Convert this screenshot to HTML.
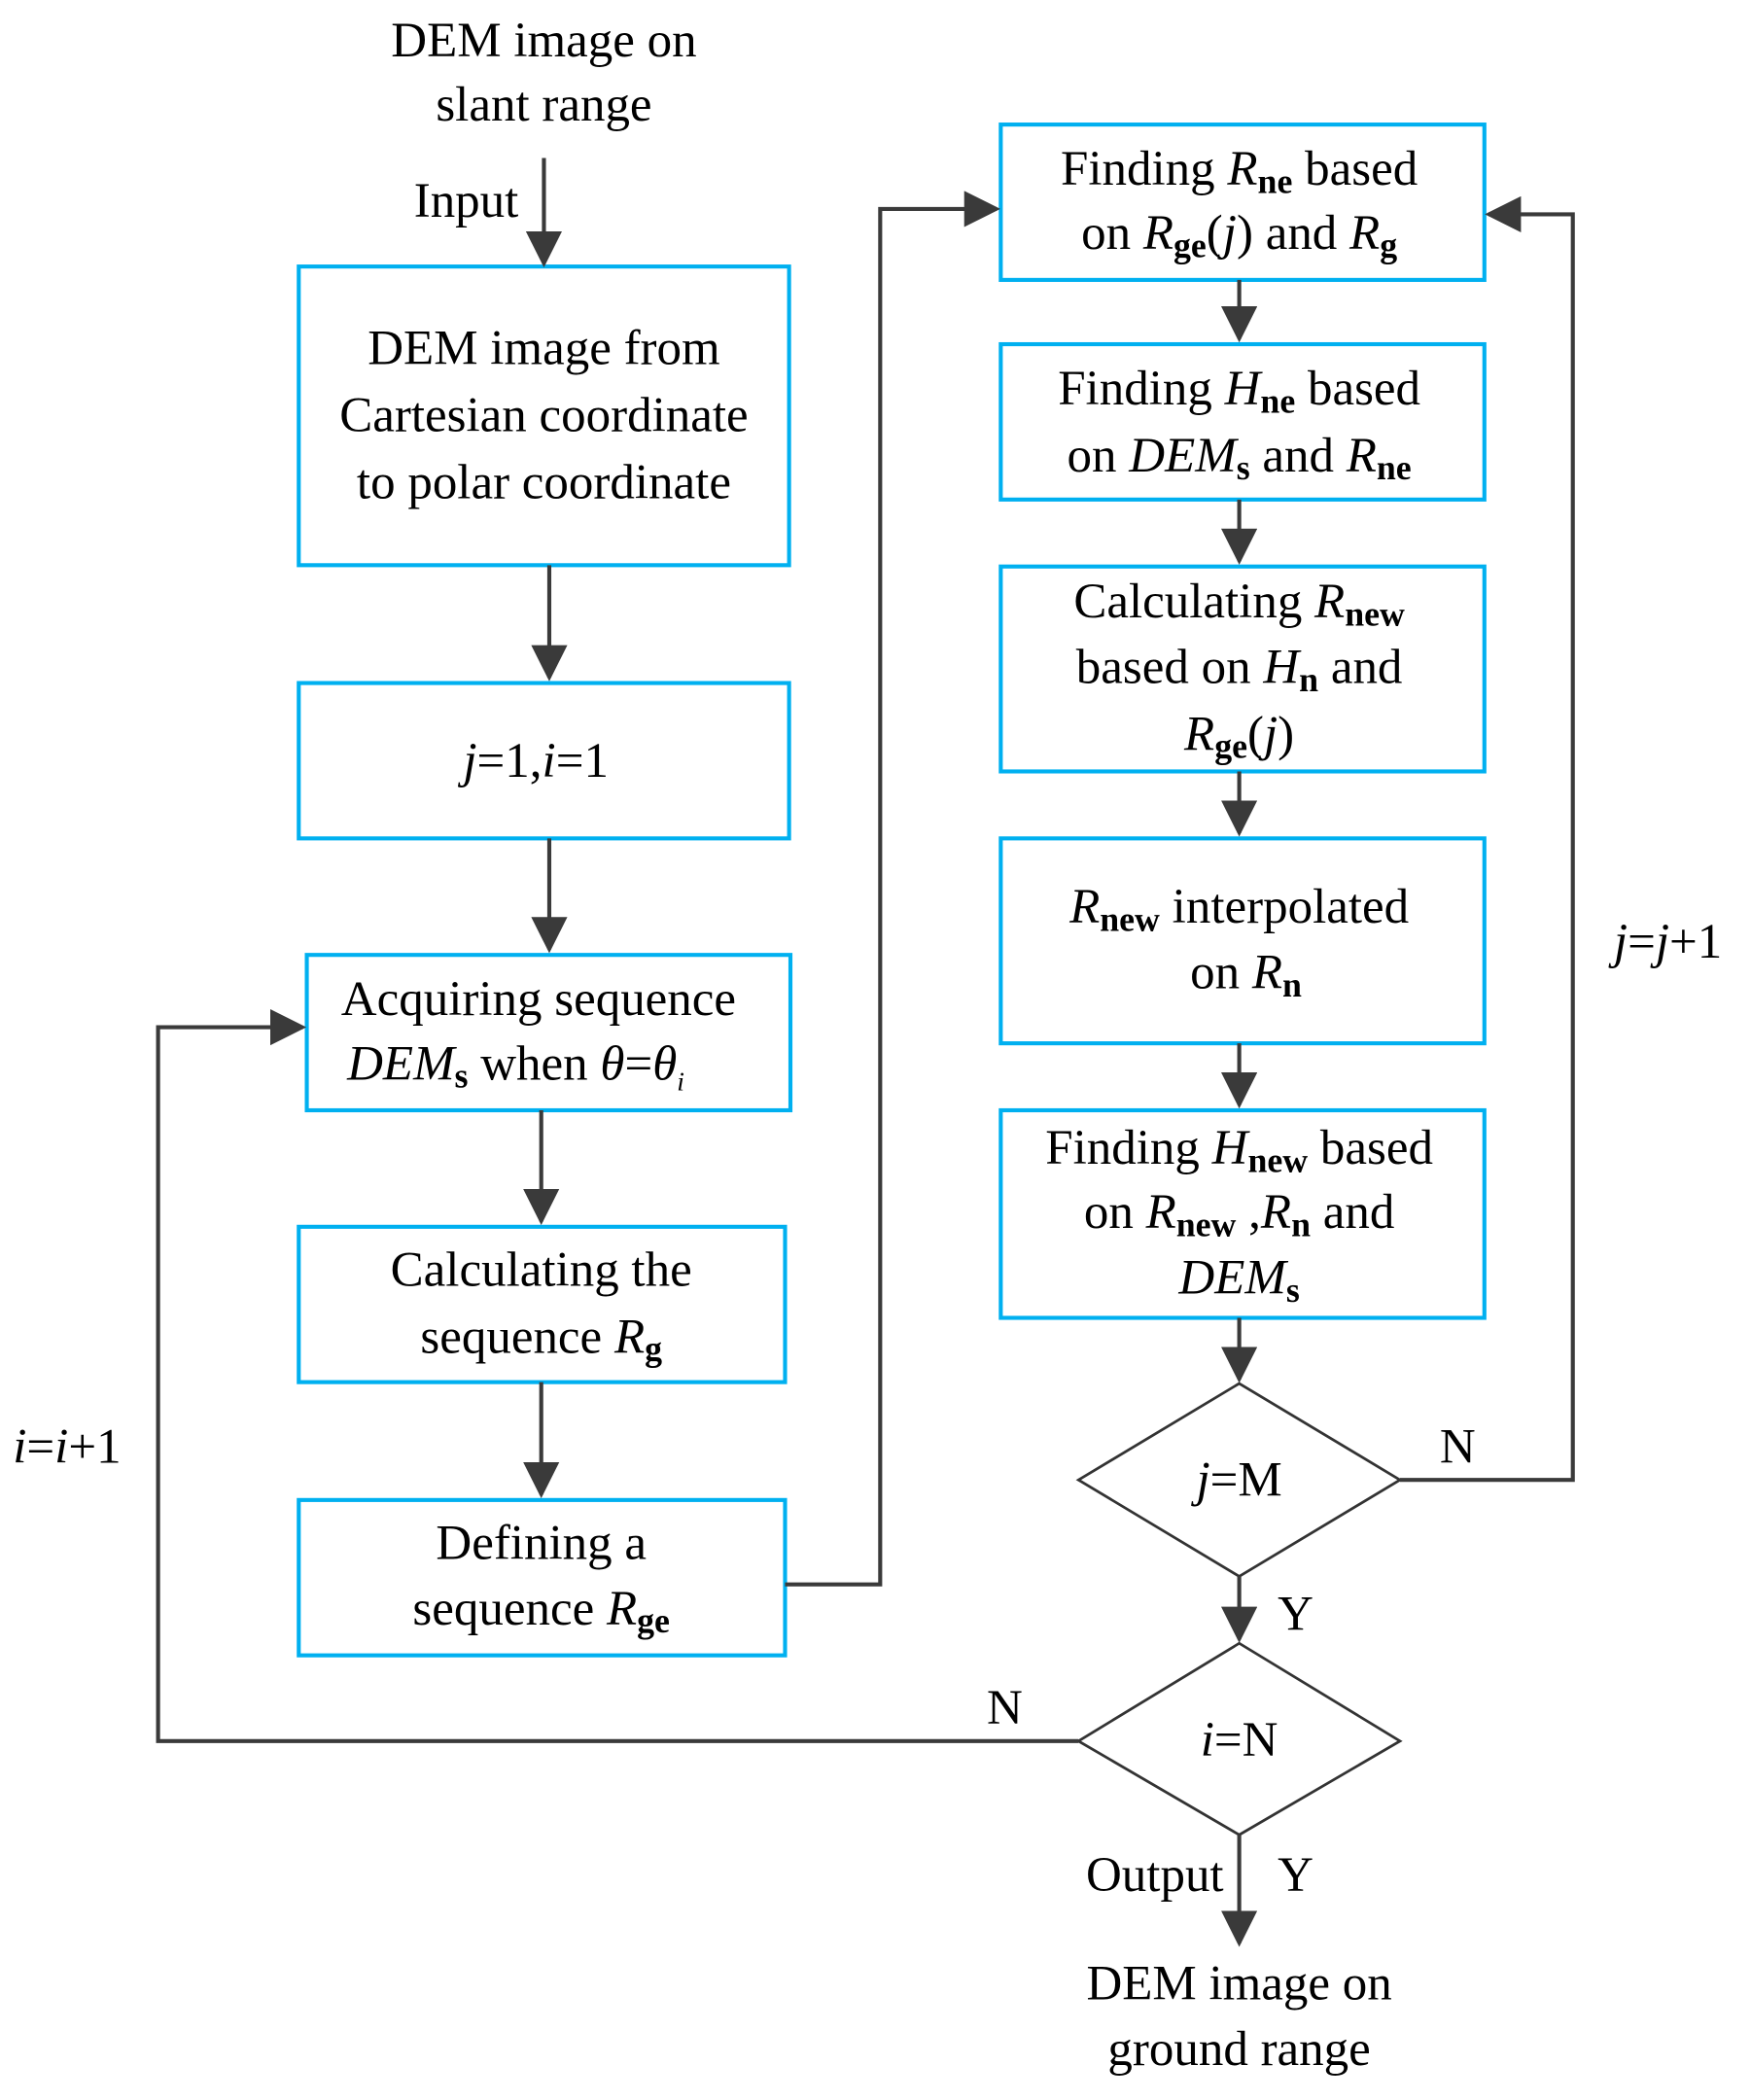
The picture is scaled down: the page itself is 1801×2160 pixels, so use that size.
<!DOCTYPE html>
<html><head><meta charset="utf-8"><style>
html,body{margin:0;padding:0;background:#fff;}
svg{display:block;}
text{font-family:"Liberation Serif",serif;font-size:37px;fill:#000;text-anchor:middle;}
.s{font-size:26px;font-weight:bold;}
.i{font-style:italic;}
</style></head><body>
<svg width="1801" height="2160" viewBox="0 0 1307 1568" preserveAspectRatio="none" xmlns="http://www.w3.org/2000/svg">
<defs>
<marker id="b" viewBox="0 0 10 10" refX="9" refY="5" markerWidth="9" markerHeight="9" orient="auto"><path d="M0,0L10,5L0,10z" fill="#3a3a3a"/></marker></defs>
<g fill="none" stroke="#00b0f0" stroke-width="3">
<rect x="223" y="199" width="366" height="223"/>
<rect x="223" y="510" width="366" height="116"/>
<rect x="229" y="713" width="361" height="116"/>
<rect x="223" y="916" width="363" height="116"/>
<rect x="223" y="1120" width="363" height="116"/>
<rect x="747" y="93" width="361" height="116"/>
<rect x="747" y="257" width="361" height="116"/>
<rect x="747" y="423" width="361" height="153"/>
<rect x="747" y="626" width="361" height="153"/>
<rect x="747" y="829" width="361" height="155"/>
</g>
<g fill="none" stroke="#333" stroke-width="2">
<path d="M925,1033L1045,1105L925,1177L805,1105Z"/>
<path d="M925,1227L1045,1300L925,1370L805,1300Z"/>
</g>
<g fill="none" stroke="#3a3a3a" stroke-width="3" marker-end="url(#b)">
<path d="M406,118V197"/>
<path d="M410,422V506"/>
<path d="M410,626V709"/>
<path d="M404,829V912"/>
<path d="M404,1032V1116"/>
<path d="M586,1183H657V156H744"/>
<path d="M925,209V253"/>
<path d="M925,373V419"/>
<path d="M925,576V622"/>
<path d="M925,779V825"/>
<path d="M925,984V1030"/>
<path d="M1045,1105H1174V160H1111"/>
<path d="M925,1177V1224"/>
<path d="M805,1300H118V767H226"/>
<path d="M925,1370V1451"/>
</g>
<text x="406" y="42">DEM image on</text>
<text x="406" y="90">slant range</text>
<text x="348" y="162">Input</text>
<text x="406" y="272">DEM image from</text>
<text x="406" y="322">Cartesian coordinate</text>
<text x="406" y="372">to polar coordinate</text>
<text x="400" y="580"><tspan class="i">j</tspan>=1,<tspan class="i">i</tspan>=1</text>
<text x="402" y="758">Acquiring sequence</text>
<text x="385" y="806"><tspan class="i">DEM</tspan><tspan class="s" dy="6">s</tspan><tspan dy="-6"> when  </tspan><tspan class="i">θ</tspan>=<tspan class="i">θ</tspan><tspan class="i" font-size="20" dy="8">i</tspan></text>
<text x="404" y="960">Calculating the</text>
<text x="404" y="1010">sequence <tspan class="i">R</tspan><tspan class="s" dy="6">g</tspan></text>
<text x="404" y="1164">Defining a</text>
<text x="404" y="1213">sequence <tspan class="i">R</tspan><tspan class="s" dy="6">ge</tspan></text>
<text x="925" y="138">Finding <tspan class="i">R</tspan><tspan class="s" dy="6">ne</tspan><tspan dy="-6"> based</tspan></text>
<text x="925" y="186">on <tspan class="i">R</tspan><tspan class="s" dy="6">ge</tspan><tspan dy="-6">(</tspan><tspan class="i">j</tspan>) and <tspan class="i">R</tspan><tspan class="s" dy="6">g</tspan></text>
<text x="925" y="302">Finding <tspan class="i">H</tspan><tspan class="s" dy="6">ne</tspan><tspan dy="-6"> based</tspan></text>
<text x="925" y="352">on <tspan class="i">DEM</tspan><tspan class="s" dy="6">s</tspan><tspan dy="-6"> and </tspan><tspan class="i">R</tspan><tspan class="s" dy="6">ne</tspan></text>
<text x="925" y="461">Calculating <tspan class="i">R</tspan><tspan class="s" dy="6">new</tspan></text>
<text x="925" y="510">based on <tspan class="i">H</tspan><tspan class="s" dy="6">n</tspan><tspan dy="-6"> and</tspan></text>
<text x="925" y="560"><tspan class="i">R</tspan><tspan class="s" dy="6">ge</tspan><tspan dy="-6">(</tspan><tspan class="i">j</tspan>)</text>
<text x="925" y="689"><tspan class="i">R</tspan><tspan class="s" dy="6">new</tspan><tspan dy="-6"> interpolated</tspan></text>
<text x="930" y="738">on <tspan class="i">R</tspan><tspan class="s" dy="6">n</tspan></text>
<text x="925" y="869">Finding <tspan class="i">H</tspan><tspan class="s" dy="6">new</tspan><tspan dy="-6"> based</tspan></text>
<text x="925" y="917">on <tspan class="i">R</tspan><tspan class="s" dy="6">new</tspan><tspan dy="-6"> ,</tspan><tspan class="i">R</tspan><tspan class="s" dy="6">n</tspan><tspan dy="-6"> and</tspan></text>
<text x="925" y="966"><tspan class="i">DEM</tspan><tspan class="s" dy="6">s</tspan></text>
<text x="925" y="1117"><tspan class="i">j</tspan>=M</text>
<text x="925" y="1311"><tspan class="i">i</tspan>=N</text>
<text x="1245" y="715"><tspan class="i">j</tspan>=<tspan class="i">j</tspan>+1</text>
<text x="50" y="1092"><tspan class="i">i</tspan>=<tspan class="i">i</tspan>+1</text>
<text x="1088" y="1092">N</text>
<text x="967" y="1217">Y</text>
<text x="750" y="1287">N</text>
<text x="862" y="1412">Output</text>
<text x="967" y="1412">Y</text>
<text x="925" y="1493">DEM image on</text>
<text x="925" y="1542">ground range</text>
</svg>
</body></html>
